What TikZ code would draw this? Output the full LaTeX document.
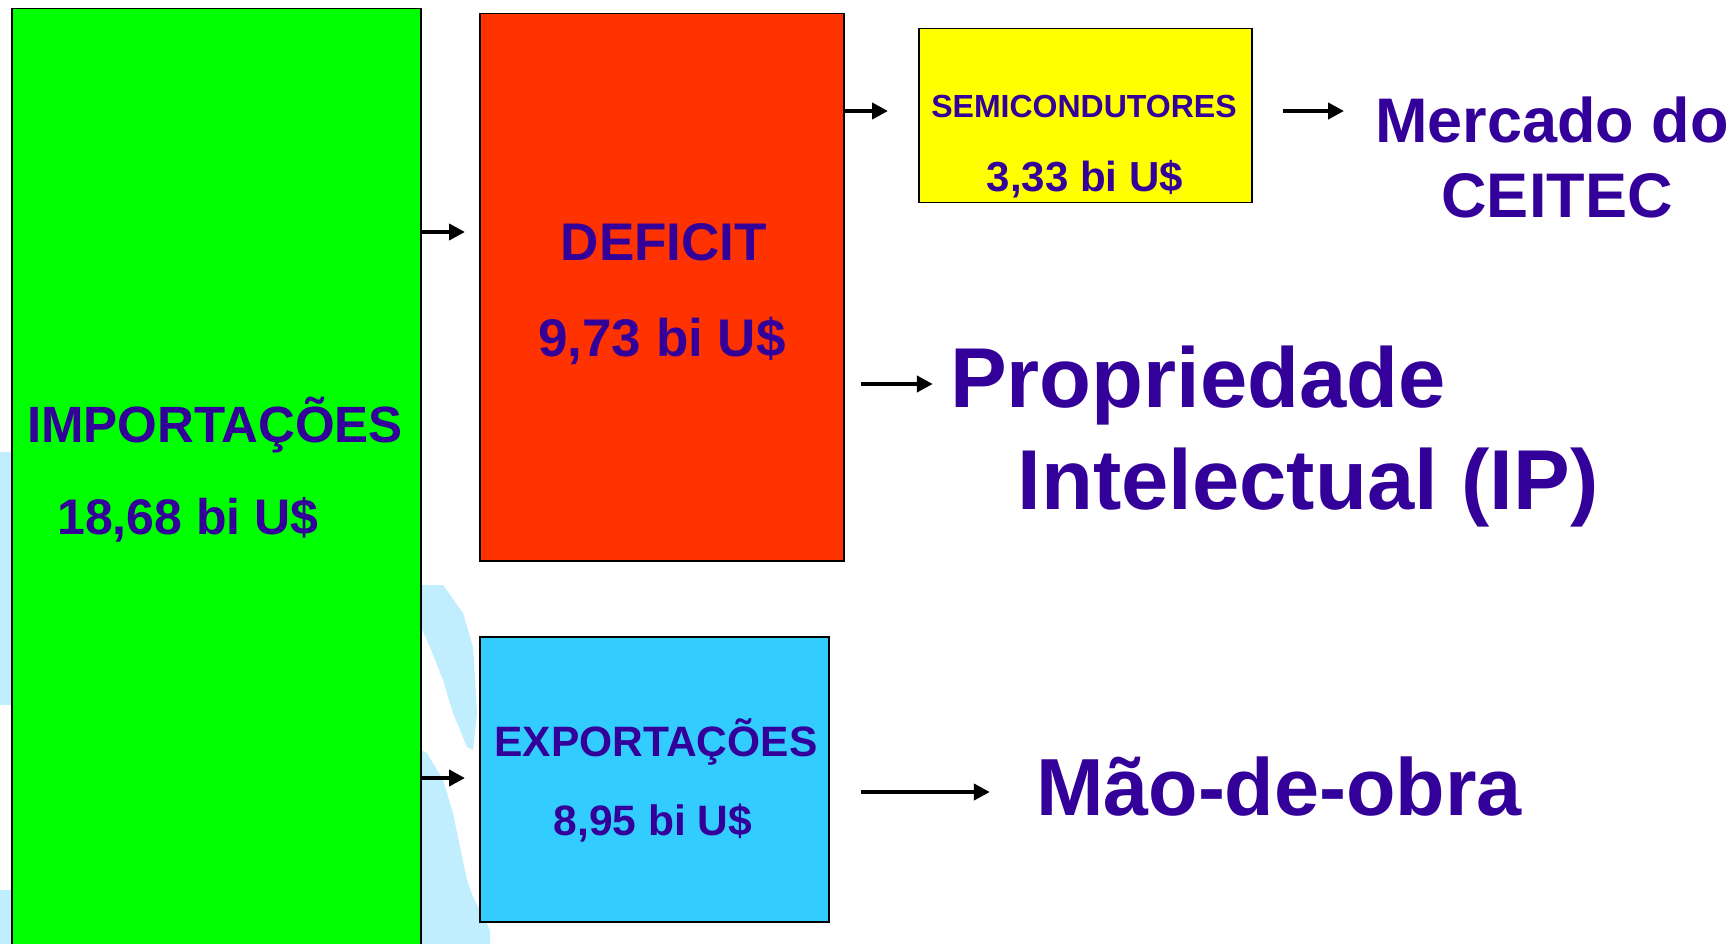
\documentclass[tikz,border=0pt]{standalone}
\usepackage{fontspec}
\setmainfont{Liberation Sans}
\usetikzlibrary{arrows.meta}
\definecolor{txt}{RGB}{51,0,153}
\definecolor{cgreen}{RGB}{0,255,0}
\definecolor{cred}{RGB}{255,51,0}
\definecolor{cyel}{RGB}{255,255,0}
\definecolor{cblue}{RGB}{51,204,255}
\definecolor{swoosh}{RGB}{192,238,255}
\tikzset{
  box/.style={draw=black, line width=1.5pt, inner sep=0pt, anchor=north west},
  lbl/.style={text=txt, inner sep=0pt, anchor=base},
  arr/.style={line width=4.5pt, -{Triangle[length=16pt,width=16pt]}},
  arrthin/.style={line width=4pt, -{Triangle[length=16pt,width=16pt]}}
}
\newcommand{\fs}[1]{\fontsize{#1}{#1}\selectfont\bfseries}
\begin{document}
\begin{tikzpicture}[x=1pt,y=-1pt]
\useasboundingbox (0,0) rectangle (1735,944);
\clip (0,0) rectangle (1735,944);
\fill[white] (0,0) rectangle (1735,944);
% faint background swoosh
\fill[swoosh] (0,452) -- (11,452) -- (11,705) -- (0,705) -- cycle;
\fill[swoosh] (0,890) -- (11,890) -- (11,944) -- (0,944) -- cycle;
\fill[swoosh] (420,585) -- (443,585) -- (463,613) -- (473,647) -- (477,713) -- (473,750) -- (467,747)
  -- (453,713) -- (443,680) -- (430,647) -- (420,625) -- cycle;
\fill[swoosh] (420,750) -- (427,753) -- (443,780) -- (453,813) -- (460,847) -- (467,880)
  -- (473,897) -- (490,930) -- (490,944) -- (420,944) -- cycle;
% boxes
\node[box, fill=cgreen, minimum width=409pt, minimum height=960pt] (imp) at (11,8) {};
\node[box, fill=cred, minimum width=364pt, minimum height=547pt] (def) at (479,13) {};
\node[box, fill=cyel, minimum width=333pt, minimum height=174pt] (sem) at (918,28) {};
\node[box, fill=cblue, minimum width=349pt, minimum height=285pt] (exp) at (479,636) {};
% labels
\node[lbl, font=\fs{51}] (impt) at (215,442) {IMPORTAÇÕES};
\node[lbl, font=\fs{50}] (impv) at (188,534) {18,68 bi U\$};
\node[lbl, font=\fs{53}] (deft) at (664,260) {DEFICIT};
\node[lbl, font=\fs{53}] (defv) at (662,356) {9,73 bi U\$};
\node[lbl, font=\fs{32}] (semt) at (1084,118) {SEMICONDUTORES};
\node[lbl, font=\fs{42}] (semv) at (1085,192) {3,33 bi U\$};
\node[lbl, font=\fs{63}] (mer1) at (1552,143) {Mercado do};
\node[lbl, font=\fs{63}] (mer2) at (1557,218) {CEITEC};
\node[lbl, font=\fs{85}] (ip1) at (1198,407) {Propriedade};
\node[lbl, font=\fs{85}] (ip2) at (1308,509) {Intelectual (IP)};
\node[lbl, font=\fs{42.5}] (expt) at (656,756) {EXPORTAÇÕES};
\node[lbl, font=\fs{42.5}] (expv) at (653,835) {8,95 bi U\$};
\node[lbl, font=\fs{81}] (mao) at (1279,815) {Mão-de-obra};
% arrows
\draw[arr, shorten >=14pt] (imp.east |- 0,232) -- (def.west |- 0,232);
\draw[arr, shorten >=14pt] (imp.east |- 0,778) -- (exp.west |- 0,778);
\draw[arr, shorten >=30pt] (def.east |- 0,111) -- (sem.west |- 0,111);
\draw[arr, shorten <=30pt, shorten >=31pt] (sem.east |- 0,111) -- (mer1.west |- 0,111);
\draw[arrthin, shorten <=16pt, shorten >=17pt] (def.east |- 0,384) -- (ip1.west |- 0,384);
\draw[arrthin, shorten <=31pt, shorten >=46pt] (exp.east |- 0,792) -- (mao.west |- 0,792);
\end{tikzpicture}
\end{document}
